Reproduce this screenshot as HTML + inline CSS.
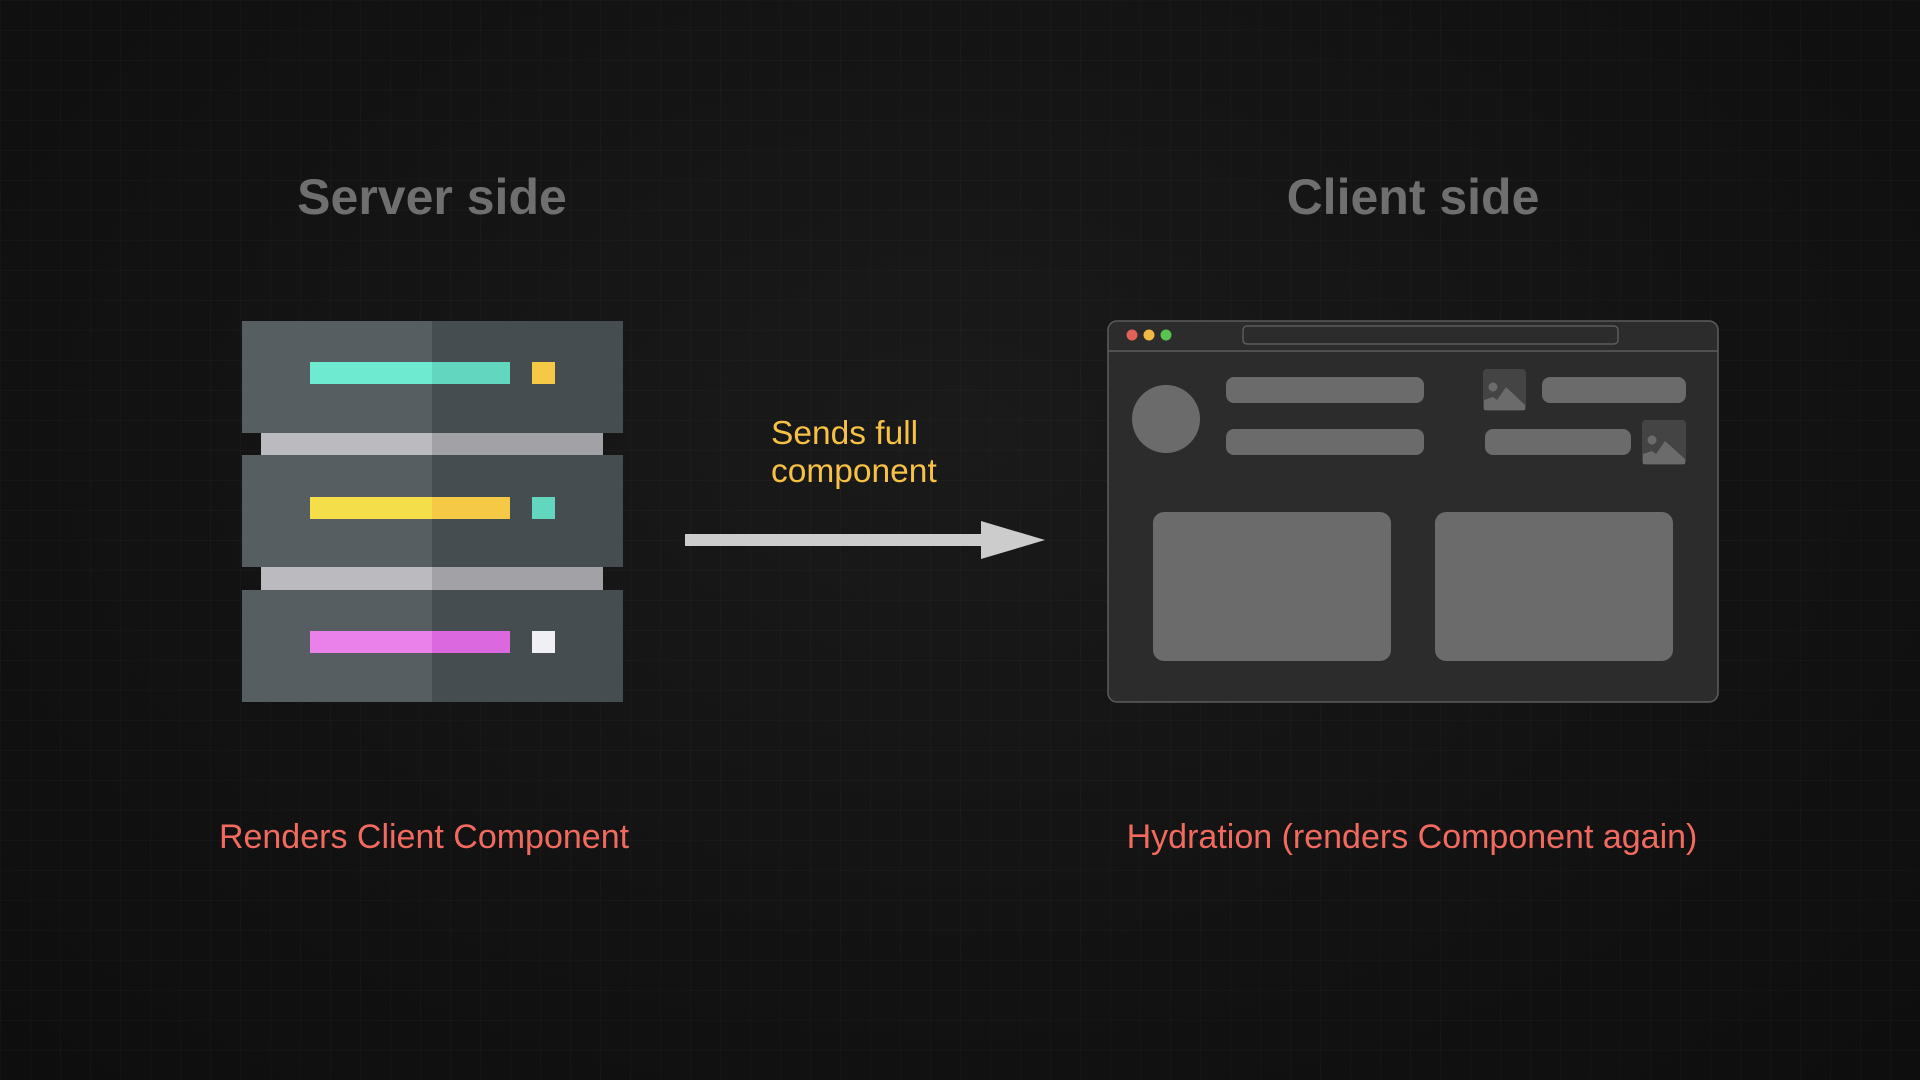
<!DOCTYPE html>
<html><head><meta charset="utf-8"><style>
html,body{margin:0;padding:0;}
body{width:1920px;height:1080px;overflow:hidden;position:relative;font-family:"Liberation Sans",Arial,sans-serif;
background:
linear-gradient(rgba(255,255,255,0.018) 1px,transparent 1px) 0 0/30px 30px,
linear-gradient(90deg,rgba(255,255,255,0.018) 1px,transparent 1px) 0 0/30px 30px,
radial-gradient(ellipse at 50% 40%,#1a1a1a 0%,#121212 60%,#0e0e0e 100%);}
.t{position:absolute;font-weight:bold;font-size:50px;color:#6f6f6f;text-align:center;width:600px;top:168px;}
.r{position:absolute;font-size:34px;color:#f26a5f;text-align:center;width:800px;top:818px;}
.y{position:absolute;left:771px;top:415px;font-size:33.5px;line-height:38px;color:#f6c144;}
</style></head><body>
<div class="t" style="left:132px">Server side</div>
<div class="t" style="left:1113px">Client side</div>
<div class="y">Sends full<br>component</div>
<div class="r" style="left:24px">Renders Client Component</div>
<div class="r" style="left:1012px">Hydration (renders Component again)</div>
<svg width="1920" height="1080" style="position:absolute;left:0;top:0">
<g>
<rect x="261" y="433" width="342" height="22" fill="#bbbabe"/><rect x="432" y="433" width="171" height="22" fill="#a2a1a5"/>
<rect x="261" y="567" width="342" height="23" fill="#bbbabe"/><rect x="432" y="567" width="171" height="23" fill="#a2a1a5"/>
<rect x="242" y="321" width="190" height="112" fill="#565e62"/><rect x="432" y="321" width="191" height="112" fill="#464d51"/>
<rect x="242" y="455" width="190" height="112" fill="#565e62"/><rect x="432" y="455" width="191" height="112" fill="#464d51"/>
<rect x="242" y="590" width="190" height="112" fill="#565e62"/><rect x="432" y="590" width="191" height="112" fill="#464d51"/>
<rect x="310" y="362" width="122" height="22" fill="#6deacf"/><rect x="432" y="362" width="78" height="22" fill="#62d6bf"/>
<rect x="532" y="362" width="23" height="22" fill="#f5c945"/>
<rect x="310" y="497" width="122" height="22" fill="#f4df4a"/><rect x="432" y="497" width="78" height="22" fill="#f5c945"/>
<rect x="532" y="497" width="23" height="22" fill="#62d6bf"/>
<rect x="310" y="631" width="122" height="22" fill="#ea81ea"/><rect x="432" y="631" width="78" height="22" fill="#dc68df"/>
<rect x="532" y="631" width="23" height="22" fill="#f0eff3"/>
</g>
<rect x="685" y="534" width="298" height="12" fill="#cccccc"/>
<polygon points="981,521 1045,540 981,559" fill="#cccccc"/>
<rect x="1108" y="321" width="610" height="381" rx="9" fill="#2c2c2c" stroke="#5c5c5c" stroke-width="1.5"/>
<line x1="1108" y1="351" x2="1718" y2="351" stroke="#5c5c5c" stroke-width="1.5"/>
<circle cx="1132" cy="335" r="5.5" fill="#e0605a"/><circle cx="1149" cy="335" r="5.5" fill="#f2b944"/><circle cx="1166" cy="335" r="5.5" fill="#5ac24f"/>
<rect x="1243" y="326" width="375" height="18" rx="4" fill="none" stroke="#666" stroke-width="1.2"/>
<circle cx="1166" cy="419" r="34" fill="#6b6b6b"/>
<rect x="1226" y="377" width="198" height="26" rx="8" fill="#6b6b6b"/>
<rect x="1226" y="429" width="198" height="26" rx="8" fill="#6b6b6b"/>
<rect x="1542" y="377" width="144" height="26" rx="8" fill="#6b6b6b"/>
<rect x="1485" y="429" width="146" height="26" rx="8" fill="#6b6b6b"/>
<g><rect x="1483" y="369" width="43" height="42" rx="4" fill="#444"/><circle cx="1493" cy="387" r="4.5" fill="#6b6b6b"/><polygon points="1484,410 1484,400 1493,397 1497,400 1506,387 1525,405 1525,410" fill="#6b6b6b"/></g>
<g><rect x="1642" y="420" width="44" height="45" rx="4" fill="#444"/><circle cx="1652" cy="440" r="4.5" fill="#6b6b6b"/><polygon points="1643,464 1643,454 1652,451 1656,454 1665,441 1685,459 1685,464" fill="#6b6b6b"/></g>
<rect x="1153" y="512" width="238" height="149" rx="11" fill="#6b6b6b"/>
<rect x="1435" y="512" width="238" height="149" rx="11" fill="#6b6b6b"/>
</svg>
</body></html>
